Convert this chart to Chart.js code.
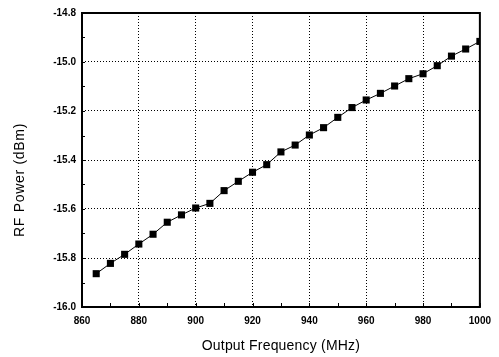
<!DOCTYPE html>
<html><head><meta charset="utf-8">
<script src="https://cdn.jsdelivr.net/npm/chart.js@4/dist/chart.umd.min.js"></script>
<style>html,body{margin:0;padding:0;background:#fff;}#wrap{width:499px;height:357px;position:relative;}</style>
</head><body><div id="wrap"><canvas id="c"></canvas></div>
<script>
const frequencies = [865,870,875,880,885,890,895,900,905,910,915,920,925,930,935,940,945,950,955,960,965,970,975,980,985,990,995,1000];
const rfPower = [-15.864,-15.822,-15.785,-15.743,-15.703,-15.654,-15.624,-15.596,-15.577,-15.525,-15.487,-15.450,-15.419,-15.367,-15.339,-15.298,-15.268,-15.226,-15.186,-15.155,-15.128,-15.098,-15.068,-15.048,-15.015,-14.976,-14.947,-14.916];
const xTickValues = [860,880,900,920,940,960,980,1000];
const yTickValues = [-16.0,-15.8,-15.6,-15.4,-15.2,-15.0,-14.8];
const xMinorStep = 10;
const yMinorStep = 0.1;
const xTitle = 'Output Frequency (MHz)';
const yTitle = 'RF Power (dBm)';

const tickFont = {family:'"Liberation Sans", Arial, sans-serif', size:10, weight:'bold'};
const titleFont = '14px "Liberation Sans", Arial, sans-serif';

function gridColor(c){ const n = c.scale.ticks.length; return (c.index===0||c.index===n-1)?'rgba(0,0,0,0)':'#000'; }

const decor = {
  id:'decor',
  afterDraw(chart){
    const {ctx, chartArea:a, scales:{x,y}} = chart;
    ctx.save();
    ctx.strokeStyle='#000'; ctx.fillStyle='#000';
    ctx.lineWidth=1;
    for(let i=0;;i++){ const v=x.min+i*xMinorStep; if(v>x.max+1e-9)break;
      const px=Math.round(x.getPixelForValue(v))+0.5;
      ctx.beginPath(); ctx.moveTo(px,a.bottom); ctx.lineTo(px,a.bottom-4); ctx.stroke(); }
    for(let i=0;;i++){ const v=y.min+i*yMinorStep; if(v>y.max+1e-9)break;
      const py=Math.round(y.getPixelForValue(v))+0.5;
      ctx.beginPath(); ctx.moveTo(a.left,py); ctx.lineTo(a.left+3,py); ctx.stroke(); }
    ctx.lineWidth=2;
    ctx.strokeRect(a.left,a.top,a.right-a.left,a.bottom-a.top);
    ctx.font=titleFont;
    ctx.textAlign='center'; ctx.textBaseline='middle';
    ctx.letterSpacing='0.2px';
    ctx.fillText(xTitle,(a.left+a.right)/2,a.bottom+39);
    ctx.translate(20,(a.top+a.bottom)/2+20);
    ctx.rotate(-Math.PI/2);
    ctx.letterSpacing='0.7px';
    ctx.fillText(yTitle,0,0);
    ctx.restore();
  }
};

new Chart(document.getElementById('c'),{
  type:'scatter',
  data:{datasets:[{
    data:frequencies.map((f,i)=>({x:f,y:rfPower[i]})),
    showLine:true,
    borderColor:'#000', borderWidth:1,
    backgroundColor:'#000',
    pointStyle:'rect', pointRadius:5, pointHoverRadius:5,
    pointBackgroundColor:'#000', pointBorderColor:'#000', pointBorderWidth:0
  }]},
  options:{
    responsive:true, maintainAspectRatio:false, animation:false,
    layout:{padding:{top:13,right:19,left:0,bottom:0}},
    plugins:{legend:{display:false},tooltip:{enabled:false}},
    scales:{
      x:{type:'linear',min:860,max:1000,
        afterBuildTicks:s=>{s.ticks=xTickValues.map(v=>({value:v}));},
        afterFit:s=>{s.height=50;},
        grid:{color:gridColor,lineWidth:1,drawTicks:false},
        border:{display:false,dash:[1,2]},
        ticks:{color:'#000',font:tickFont,padding:8,maxRotation:0,callback:v=>String(v)}},
      y:{type:'linear',min:-16,max:-14.8,
        afterBuildTicks:s=>{s.ticks=yTickValues.map(v=>({value:v}));},
        afterFit:s=>{s.width=82;},
        grid:{color:gridColor,lineWidth:1,drawTicks:false},
        border:{display:false,dash:[1,2]},
        ticks:{color:'#000',font:tickFont,padding:6,callback:v=>Number(v).toFixed(1)}}
    }
  },
  plugins:[decor]
});
</script></body></html>
